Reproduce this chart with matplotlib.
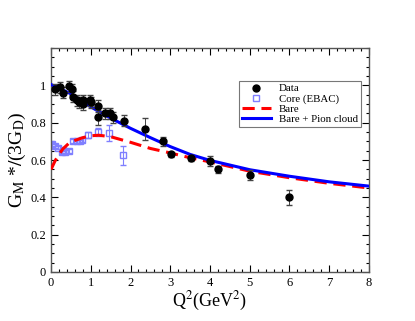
import matplotlib
matplotlib.use("Agg")
import matplotlib.pyplot as plt
from matplotlib.lines import Line2D
import numpy as np

# data points (black circles)
q2_data = [0.1, 0.23, 0.31, 0.44, 0.52, 0.56, 0.65, 0.71, 0.80, 0.81, 0.98, 1.0,
           1.17, 1.19, 1.36, 1.48, 1.57, 1.84, 2.36, 2.81, 3.01, 3.51, 4.0, 4.21, 5.0, 6.0]
gm_data = [0.98, 0.99, 0.96, 0.995, 0.98, 0.94, 0.92, 0.91, 0.92, 0.90, 0.92, 0.91,
           0.83, 0.89, 0.85, 0.85, 0.83, 0.81, 0.765, 0.70, 0.63, 0.61, 0.595, 0.55, 0.52, 0.40]
gm_data_err = [0.03, 0.03, 0.03, 0.03, 0.03, 0.03, 0.03, 0.03, 0.03, 0.03, 0.03, 0.03,
               0.04, 0.03, 0.03, 0.03, 0.03, 0.03, 0.06, 0.025, 0.015, 0.015, 0.025, 0.02, 0.025, 0.04]

# Core (EBAC) open squares
q2_core = [0.02, 0.1, 0.18, 0.27, 0.31, 0.35, 0.44, 0.56, 0.65, 0.73, 0.77, 0.92, 1.17, 1.47, 1.82]
gm_core = [0.685, 0.675, 0.667, 0.644, 0.656, 0.644, 0.65, 0.703, 0.70, 0.70, 0.706, 0.733, 0.75, 0.745, 0.625]
gm_core_err = [0.01, 0.01, 0.01, 0.01, 0.01, 0.01, 0.01, 0.01, 0.01, 0.01, 0.01, 0.015, 0.02, 0.045, 0.05]

# Bare curve
q2_bare = [0, 0.1, 0.2, 0.3, 0.45, 0.6, 0.8, 1.0, 1.2, 1.5, 2, 2.5, 3, 3.5, 4, 5, 6, 7, 8]
gm_bare = [0.55, 0.595, 0.63, 0.66, 0.69, 0.705, 0.72, 0.73, 0.733, 0.725, 0.695, 0.662,
           0.638, 0.612, 0.59, 0.54, 0.505, 0.475, 0.45]

# Bare + Pion cloud curve
q2_full = [0, 0.25, 0.5, 0.75, 1, 1.5, 2, 2.5, 3, 3.5, 4, 5, 6, 7, 8]
gm_full = [1.005, 0.98, 0.955, 0.92, 0.885, 0.825, 0.77, 0.72, 0.672, 0.63, 0.598, 0.548,
           0.513, 0.483, 0.46]

plt.rcParams["font.family"] = "Liberation Serif"
plt.rcParams["mathtext.fontset"] = "stix"

fig = plt.figure(figsize=(4.15, 3.21), dpi=100)
ax = fig.add_axes([0.123, 0.153, 0.766, 0.697])

core_col = "#7f7fff"
ax.errorbar(q2_core, gm_core, yerr=gm_core_err, fmt="s", mfc="none", mec=core_col,
            ecolor=core_col, ms=4, mew=1, elinewidth=0.8, capsize=2, zorder=2)
ax.plot(q2_bare, gm_bare, color="red", lw=2.2, ls=(0, (4, 2.2)), zorder=3)
ax.plot(q2_full, gm_full, color="#0000ff", lw=2.2, zorder=3)
ax.errorbar(q2_data, gm_data, yerr=gm_data_err, fmt="o", color="black", ms=5,
            ecolor="#444444", elinewidth=0.7, capsize=2.5, zorder=4)

ax.set_xlim(0, 8)
ax.set_ylim(0, 1.2)
ax.set_xticks(np.arange(0, 9, 1))
ax.set_xticks(np.arange(0, 8.01, 0.2), minor=True)
ax.set_yticks([0, 0.2, 0.4, 0.6, 0.8, 1])
ax.set_yticklabels(["0", "0.2", "0.4", "0.6", "0.8", "1"])
ax.set_yticks(np.arange(0, 1.21, 0.05), minor=True)
ax.tick_params(which="both", direction="in", top=True, right=True, labelsize=9, width=0.8)
ax.tick_params(which="major", length=5)
ax.tick_params(which="minor", length=2.5)
for s in ax.spines.values():
    s.set_color("#555555")
    s.set_linewidth(1)

ax.set_xlabel(r"Q$^2$(GeV$^2$)", fontsize=13, labelpad=1)
ax.set_ylabel(r"G$_\mathrm{M}$ *$/$(3G$_\mathrm{D}$)", fontsize=14, labelpad=2)

handles = [
    Line2D([], [], ls="none", marker="o", color="black", ms=5),
    Line2D([], [], ls="none", marker="s", mfc="none", mec=core_col, ms=4, mew=1),
    Line2D([], [], color="red", lw=2.2, ls=(0, (4, 2.2))),
    Line2D([], [], color="#0000ff", lw=2.2),
]
labels = ["Data", "Core (EBAC)", "Bare", "Bare + Pion cloud"]
leg = ax.legend(handles, labels, loc="upper left", bbox_to_anchor=(0.59, 0.855),
                fontsize=7.8, frameon=True, fancybox=False, edgecolor="#555555",
                handlelength=2.7, borderpad=0.3, labelspacing=0.05, handletextpad=0.7,
                borderaxespad=0)
leg.get_frame().set_linewidth(0.8)

fig.savefig("out.png", dpi=100)
